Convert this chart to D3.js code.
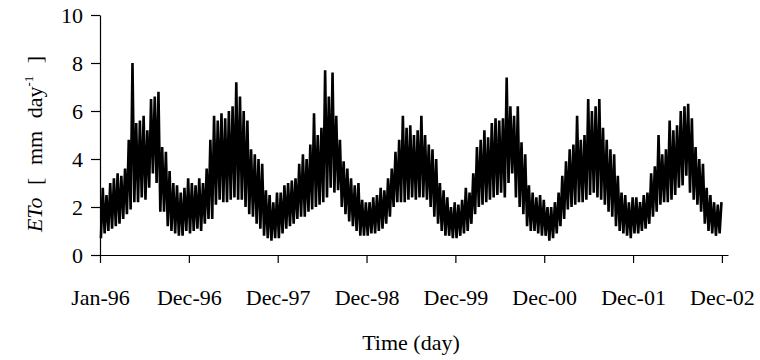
<!DOCTYPE html>
<html>
<head>
<meta charset="utf-8">
<script src="https://cdn.jsdelivr.net/npm/d3@7"></script>
<style>
  body { margin: 0; background: #fff; }
</style>
</head>
<body>
<svg id="chart" width="760" height="360"></svg>
<script>
const years = [1996, 1997, 1998, 1999, 2000, 2001, 2002];

const etoLow = [
  0.7, 0.9, 1.0, 1.1, 1.2, 1.3, 1.5, 1.7, 1.9, 2.2, 2.2, 2.4, 2.3, 2.8, 3.4, 3.0, 1.8, 1.8, 1.2, 1.0, 0.9, 0.8, 0.8, 1.0, // 1996
  0.9, 1.0, 1.1, 1.0, 1.3, 1.5, 1.5, 2.1, 2.3, 2.2, 2.2, 2.3, 2.4, 2.3, 2.3, 2.0, 1.7, 1.6, 1.3, 1.1, 0.8, 0.7, 0.6, 0.7, // 1997
  0.7, 0.9, 1.1, 1.2, 1.3, 1.5, 1.6, 1.6, 1.8, 1.9, 2.0, 2.1, 2.2, 2.4, 2.8, 2.6, 2.7, 2.0, 1.7, 1.4, 1.2, 1.0, 0.8, 0.8, // 1998
  0.8, 0.9, 0.9, 1.0, 1.1, 1.3, 1.6, 2.0, 2.2, 2.2, 2.2, 2.3, 2.4, 2.3, 2.4, 2.4, 2.3, 2.0, 1.6, 1.3, 1.0, 0.8, 0.8, 0.7, // 1999
  0.7, 0.8, 0.9, 1.0, 1.3, 1.7, 2.0, 2.1, 2.2, 2.3, 2.4, 2.5, 2.6, 2.4, 3.0, 3.4, 2.4, 2.0, 1.7, 1.2, 1.0, 1.0, 0.9, 0.8, // 2000
  0.8, 0.6, 0.7, 0.9, 1.2, 1.5, 1.9, 2.0, 2.1, 2.2, 2.2, 2.3, 2.5, 2.6, 2.4, 2.3, 2.1, 1.8, 1.6, 1.2, 1.0, 0.9, 0.8, 0.7, // 2001
  0.9, 0.9, 1.0, 1.1, 1.3, 1.6, 1.8, 2.1, 2.2, 2.2, 2.3, 2.5, 2.8, 2.9, 3.3, 2.6, 2.3, 2.1, 1.8, 1.3, 1.0, 0.9, 0.8, 0.9  // 2002
];

const etoHigh = [
  2.8, 2.5, 3.0, 3.2, 3.4, 3.3, 3.6, 4.8, 8.0, 5.5, 5.6, 5.8, 5.2, 6.5, 6.6, 6.8, 4.5, 4.3, 3.5, 3.0, 2.9, 2.6, 2.8, 3.2, // 1996
  3.0, 2.9, 3.2, 3.0, 3.6, 4.8, 5.8, 5.6, 5.9, 5.7, 6.0, 6.2, 7.2, 6.6, 6.0, 5.6, 4.4, 4.2, 4.0, 3.8, 2.7, 2.5, 2.2, 2.6, // 1997
  2.6, 2.9, 3.0, 3.1, 3.2, 3.8, 4.2, 4.0, 4.6, 5.9, 5.0, 5.3, 7.7, 6.6, 7.6, 5.8, 4.8, 3.9, 3.6, 3.2, 2.9, 3.0, 2.3, 2.2, // 1998
  2.2, 2.4, 2.5, 2.8, 2.7, 3.2, 3.6, 4.3, 4.8, 5.8, 5.3, 5.4, 5.0, 5.2, 5.8, 5.0, 4.6, 4.4, 4.0, 3.0, 2.7, 2.4, 2.0, 2.2, // 1999
  2.1, 2.3, 2.8, 2.6, 3.4, 4.5, 4.8, 5.2, 4.9, 5.5, 5.7, 5.6, 5.7, 7.4, 6.2, 5.8, 6.2, 4.7, 4.2, 2.9, 2.6, 2.4, 2.5, 2.3, // 2000
  2.0, 2.0, 2.2, 2.6, 3.3, 3.9, 4.4, 4.6, 5.8, 4.8, 5.0, 6.5, 6.0, 6.2, 6.5, 5.3, 4.8, 4.4, 4.2, 3.3, 2.6, 2.5, 2.2, 2.4, // 2001
  2.4, 2.2, 2.5, 2.6, 3.4, 3.7, 5.0, 4.2, 4.4, 5.6, 5.2, 5.4, 6.0, 6.2, 6.3, 5.7, 4.5, 4.0, 3.8, 2.8, 2.5, 2.2, 2.1, 2.2  // 2002
];

const tickDays = [0, 365, 730, 1095, 1460, 1825, 2190, 2555];
const tickLabels = ["Jan-96", "Dec-96", "Dec-97", "Dec-98", "Dec-99", "Dec-00", "Dec-01", "Dec-02"];
const yTicks = [0, 2, 4, 6, 8, 10];

const FONT = "'Liberation Serif', 'Times New Roman', serif";
const svg = d3.select("#chart");
const mLeft = 100, mRight = 728, mTop = 15, mBottom = 255;

const x = d3.scaleLinear().domain([0, 2580]).range([mLeft, mRight]);
const y = d3.scaleLinear().domain([0, 10]).range([mBottom, mTop]);

// build the zigzag series: low then high inside each half-month
const points = [];
let start = 0;
years.forEach((yr, k) => {
  const len = (yr % 4 === 0 ? 366 : 365) / 24;
  for (let i = 0; i < 24; i++) {
    points.push([start + (i + 0.25) * len, etoLow[k * 24 + i]]);
    points.push([start + (i + 0.75) * len, etoHigh[k * 24 + i]]);
  }
  start += len * 24;
});

const line = d3.line().x(d => x(d[0])).y(d => y(d[1]));

svg.append("path")
  .datum(points)
  .attr("d", line)
  .attr("fill", "none")
  .attr("stroke", "#000")
  .attr("stroke-width", 2.6)
  .attr("stroke-linejoin", "bevel");

// axes
const xAxis = d3.axisBottom(x)
  .tickValues(tickDays)
  .tickFormat((d, i) => tickLabels[i])
  .tickSize(8)
  .tickPadding(26)
  .tickSizeOuter(0);

const gx = svg.append("g")
  .attr("transform", `translate(0,${mBottom})`)
  .call(xAxis);

const yAxis = d3.axisLeft(y)
  .tickValues(yTicks)
  .tickSize(9)
  .tickPadding(8)
  .tickSizeOuter(0);

const gy = svg.append("g")
  .attr("transform", `translate(${mLeft},0)`)
  .call(yAxis);

[gx, gy].forEach(g => {
  g.attr("font-family", null).attr("font-size", null);
  g.selectAll("path, line").attr("stroke", "#000").attr("stroke-width", 1.2);
  g.selectAll("text").style("font-family", FONT).style("font-size", "22px").attr("fill", "#000");
});

// axis titles
svg.append("text")
  .attr("x", 411)
  .attr("y", 350)
  .attr("text-anchor", "middle")
  .style("font-family", FONT)
  .style("font-size", "22px")
  .text("Time (day)");

const yt = svg.append("text")
  .attr("transform", "translate(42,144) rotate(-90)")
  .attr("text-anchor", "middle")
  .style("font-family", FONT)
  .style("font-size", "22px")
  .style("word-spacing", "7px");
yt.append("tspan").attr("font-style", "italic").text("ETo");
yt.append("tspan").text(" [ mm day");
yt.append("tspan").style("font-size", "13px").attr("dy", -9).text("-1");
yt.append("tspan").attr("dy", 9).text(" ]");
</script>
</body>
</html>
